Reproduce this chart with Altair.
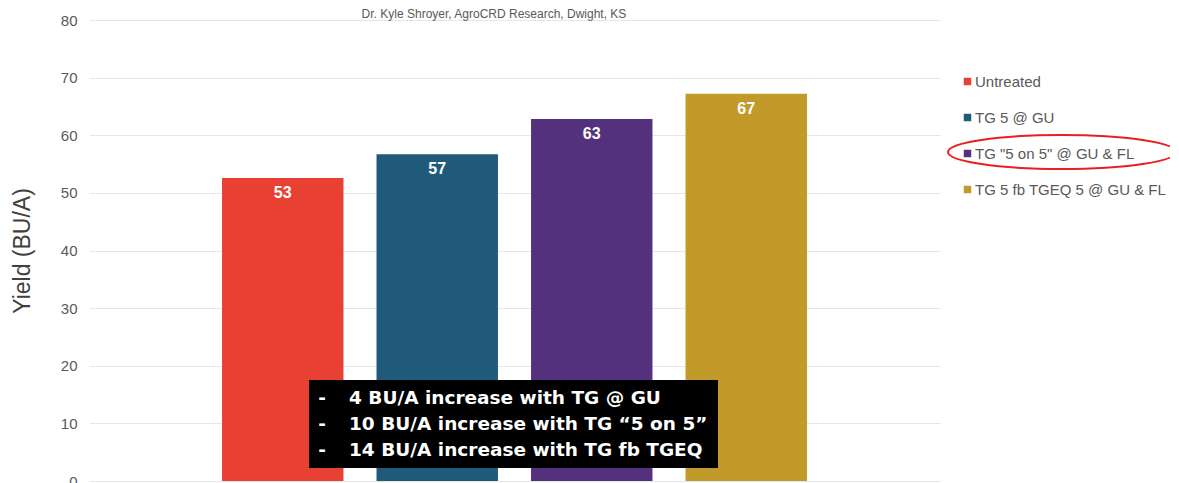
import altair as alt
import pandas as pd

treatments = ["Untreated", "TG 5 @ GU", 'TG "5 on 5" @ GU & FL', "TG 5 fb TGEQ 5 @ GU & FL"]
yields = [52.6, 56.7, 62.8, 67.2]
colors = ["#E84134", "#1F5A7B", "#53317C", "#C19A2A"]
subtitle = "Dr. Kyle Shroyer, AgroCRD Research, Dwight, KS"
note_lines = [
    "4 BU/A increase with TG @ GU",
    "10 BU/A increase with TG \u201c5 on 5\u201d",
    "14 BU/A increase with TG fb TGEQ",
]
y_ticks = [0, 10, 20, 30, 40, 50, 60, 70, 80]

df = pd.DataFrame({"treatment": treatments, "yield": yields})
one = pd.DataFrame({"k": [0]})

FONT = "Liberation Sans"

x_enc = alt.X("treatment:N", sort=treatments, axis=None,
              scale=alt.Scale(paddingInner=0.214, paddingOuter=0.861))
y_enc = alt.Y("yield:Q", scale=alt.Scale(domain=[0, 80], nice=False),
              axis=alt.Axis(values=y_ticks, title="Yield (BU/A)", grid=True,
                            gridColor="#E6E6E6", gridWidth=1, domain=False,
                            ticks=False, labelPadding=12, labelFontSize=15,
                            labelColor="#595959", labelFont=FONT,
                            titleFont=FONT, titleFontSize=23, titleFontWeight="normal",
                            titleColor="#404040", titlePadding=26))

bars = alt.Chart(df).mark_bar().encode(
    x=x_enc,
    y=y_enc,
    color=alt.Color("treatment:N", sort=treatments,
                    scale=alt.Scale(domain=treatments, range=colors),
                    legend=alt.Legend(title=None, orient="none", legendX=871, legendY=54,
                                      symbolType="square", symbolSize=56,
                                      symbolStrokeWidth=0, labelFontSize=15,
                                      labelFont=FONT, labelColor="#595959",
                                      labelOffset=0, rowPadding=20, labelLimit=300)),
)

labels = alt.Chart(df).mark_text(
    baseline="top", dy=7, color="white", font=FONT, fontSize=16, fontWeight="bold"
).encode(
    x=alt.X("treatment:N", sort=treatments),
    y=alt.Y("yield:Q"),
    text=alt.Text("yield:Q", format=".0f"),
)

sub = alt.Chart(one).mark_text(
    text=subtitle, font=FONT, fontSize=12, color="#595959", baseline="middle"
).encode(x=alt.value(405), y=alt.value(-6))

box = alt.Chart(one).mark_rect(color="black").encode(
    x=alt.value(220), x2=alt.value(629), y=alt.value(360), y2=alt.value(448)
)

dashes = alt.Chart(one).mark_text(
    text=["-", "-", "-"], font="DejaVu Sans", fontSize=18.5, fontWeight="bold", color="white",
    align="center", baseline="middle", lineHeight=26
).encode(x=alt.value(233), y=alt.value(378))

notes = alt.Chart(one).mark_text(
    text=note_lines, font="DejaVu Sans", fontSize=18.5, fontWeight="bold", color="white",
    align="left", baseline="middle", lineHeight=26
).encode(x=alt.value(260), y=alt.value(378))

ellipse = alt.Chart(one).mark_point(
    shape="M -1 0 A 1 0.15 0 1 1 1 0 A 1 0.15 0 1 1 -1 0 Z",
    size=228 * 228, filled=False, stroke="#E8201F", strokeWidth=2, opacity=1
).encode(x=alt.value(973), y=alt.value(132))

chart = alt.layer(bars, labels, sub, box, dashes, notes, ellipse).properties(
    width=851, height=461,
    autosize=alt.AutoSizeParams(type="none"),
    padding={"left": 81, "top": 12, "right": 230, "bottom": 2},
).configure_view(stroke=None)

chart.save("out.html", embed_options={"renderer": "svg", "actions": False})
